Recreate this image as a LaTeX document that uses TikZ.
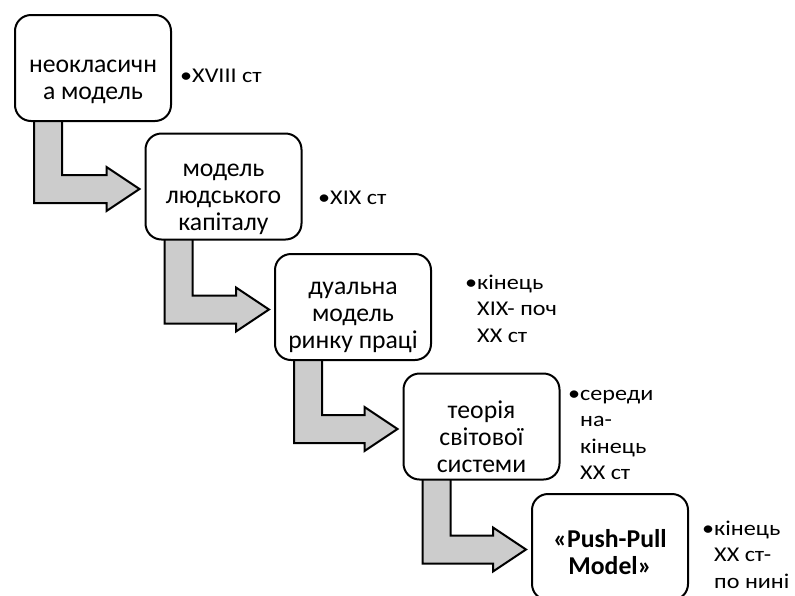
\documentclass[tikz,border=0pt]{standalone}
\usepackage{fontspec}
\setmainfont{Carlito}
\newfontfamily\datefont[FakeStretch=1.15]{Carlito}
\usetikzlibrary{calc, backgrounds}

\tikzset{
  stepbox/.style={draw, line width=2pt, fill=white, rounded corners=16pt, minimum width=156pt, minimum height=106pt, inner sep=0pt},
  boxtext/.style={align=center, inner sep=0pt, font=\fontsize{25.7}{27}\selectfont},
  sidetext/.style={anchor=base west, inner sep=0pt, font=\datefont\fontsize{21}{26.5}\selectfont},
  steparrow/.style={draw, line width=2pt, fill=gray!40},
}

\begin{document}
\begin{tikzpicture}[x=1pt, y=-1pt]
\useasboundingbox (0,0) rectangle (795,595);

% boxes
\node[stepbox, label={[boxtext, yshift=-14pt]center:{неокласичн\\а модель}}] (b1) at (93,68) {};
\node[stepbox, label={[boxtext, yshift=-13pt]center:{модель\\людського\\капіталу}}] (b2) at (223.5,186.5) {};
\node[stepbox, label={[boxtext, yshift=-10pt]center:{дуальна\\модель\\ринку праці}}] (b3) at (353,307) {};
\node[stepbox, label={[boxtext, yshift=-10pt]center:{теорія\\світової\\системи}}] (b4) at (481.5,426.5) {};
\node[stepbox, label={[boxtext, font=\fontsize{25.7}{27}\selectfont\bfseries, yshift=-5pt]center:{«Push-Pull\\Model»}}] (b5) at (610,547) {};

% dates
\node[sidetext] (s1) at (180,82) {•XVIII ст};
\node[sidetext] (s2) at (318,204) {•XIX ст};
\node[sidetext] (s3) at (465,289) {•\begin{tabular}[t]{@{}l@{}}кінець\\XIX- поч\\XX ст\end{tabular}};
\node[sidetext] (s4) at (568,400) {•\begin{tabular}[t]{@{}l@{}}середи\\на-\\кінець\\XX ст\end{tabular}};
\node[sidetext] (s5) at (702,535) {•\begin{tabular}[t]{@{}l@{}}кінець\\XX ст-\\по нині\end{tabular}};

% bent arrows
\begin{scope}[on background layer]
\foreach \s/\t in {b1/b2, b2/b3, b3/b4, b4/b5}
  \draw[steparrow] let \p1 = (\s.south west), \p2 = (\t.west) in
    (\x1+20pt,\y1+8pt) -- (\x1+20pt,\y2-16.5pt) -- (\x2-38pt,\y2-16.5pt) -- (\x2-38pt,\y2-24.5pt)
    -- (\x2-5pt,\y2-2.5pt) -- (\x2-38pt,\y2+19.5pt) -- (\x2-38pt,\y2+11.5pt) -- (\x1+48pt,\y2+11.5pt)
    -- (\x1+48pt,\y1+8pt) -- cycle;
\end{scope}
\end{tikzpicture}
\end{document}
